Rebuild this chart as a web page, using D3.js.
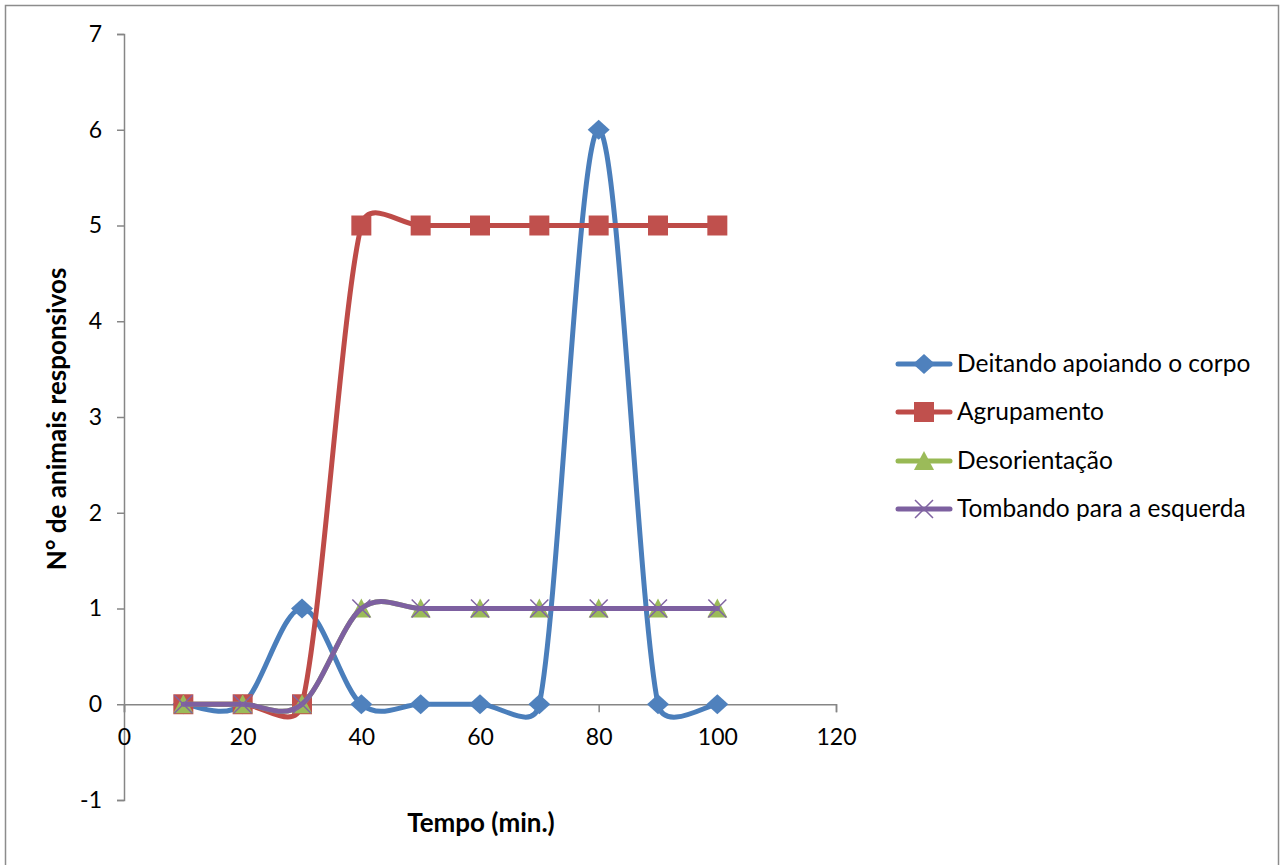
<!DOCTYPE html>
<html>
<head>
<meta charset="utf-8">
<script src="https://cdn.jsdelivr.net/npm/d3@7/dist/d3.min.js"></script>
<style>
  html, body { margin: 0; padding: 0; background: #fff; }
  svg { display: block; }
  text { font-family: Lato, "Open Sans", "Liberation Sans", sans-serif; fill: #000; }
</style>
</head>
<body>
<svg id="chart" width="1280" height="865"></svg>
<script>
// Time points (minutes)
const tempo = [10, 20, 30, 40, 50, 60, 70, 80, 90, 100];

// Number of responsive animals per behaviour
const deitando = [0, 0, 1, 0, 0, 0, 0, 6, 0, 0];
const agrupamento = [0, 0, 0, 5, 5, 5, 5, 5, 5, 5];
const desorientacao = [0, 0, 0, 1, 1, 1, 1, 1, 1, 1];
const tombando = [0, 0, 0, 1, 1, 1, 1, 1, 1, 1];

const seriesNames = ["Deitando apoiando o corpo", "Agrupamento", "Desorientação", "Tombando para a esquerda"];
const seriesValues = [deitando, agrupamento, desorientacao, tombando];
const seriesColors = ["#4A7EBB", "#BE4B48", "#98B954", "#7D60A0"];
const markerColors = ["#4F81BD", "#C0504D", "#9BBB59", "#8064A2"];
const markerShapes = ["diamond", "square", "triangle", "x"];

const xTicks = [0, 20, 40, 60, 80, 100, 120];
const yTicks = [-1, 0, 1, 2, 3, 4, 5, 6, 7];

const svg = d3.select("#chart");

// chart frame
svg.append("rect")
  .attr("x", 5.5).attr("y", 5.5)
  .attr("width", 1273).attr("height", 880)
  .attr("fill", "#fff")
  .attr("stroke", "#8c8c8c").attr("stroke-width", 1.5);

const x = d3.scaleLinear().domain([0, 120]).range([124, 836]);
const y = d3.scaleLinear().domain([-1, 7]).range([800, 34]);

const axisColor = "#868686";
const tickFont = 23;

// Y axis (at x = 0)
const yAxis = svg.append("g")
  .attr("transform", `translate(${x(0)},0)`)
  .call(d3.axisLeft(y).tickValues(yTicks).tickSize(7).tickPadding(15).tickFormat(d => String(d)));
yAxis.select(".domain").attr("stroke", axisColor).attr("stroke-width", 1.5);
yAxis.selectAll(".tick line").attr("stroke", axisColor).attr("stroke-width", 1.5);
yAxis.selectAll(".tick text").attr("font-size", tickFont).attr("font-family", "Lato, sans-serif").attr("fill", "#000");

// X axis (crosses at y = 0)
const xAxis = svg.append("g")
  .attr("transform", `translate(0,${y(0)})`)
  .call(d3.axisBottom(x).tickValues(xTicks).tickSize(8).tickPadding(16).tickFormat(d => String(d)));
xAxis.select(".domain").attr("stroke", axisColor).attr("stroke-width", 1.5);
xAxis.selectAll(".tick line").attr("stroke", axisColor).attr("stroke-width", 1.5);
xAxis.selectAll(".tick text").attr("font-size", tickFont).attr("font-family", "Lato, sans-serif").attr("fill", "#000");

// Axis titles
svg.append("text")
  .attr("transform", `translate(66,${(y(7) + y(-1)) / 2 + 2}) rotate(-90)`)
  .attr("text-anchor", "middle")
  .attr("font-size", 26).attr("font-weight", "bold")
  .text("N° de animais responsivos");

svg.append("text")
  .attr("x", 481).attr("y", 832)
  .attr("text-anchor", "middle")
  .attr("font-size", 26).attr("font-weight", "bold")
  .text("Tempo (min.)");

// Smoothed line with Bezier control points limited to half the segment length
function smoothPath(pts) {
  const p = d3.path();
  const n = pts.length;
  p.moveTo(pts[0][0], pts[0][1]);
  const dist = (a, b) => Math.hypot(b[0] - a[0], b[1] - a[1]);
  for (let i = 0; i < n - 1; i++) {
    const p0 = pts[Math.max(i - 1, 0)];
    const p1 = pts[i];
    const p2 = pts[i + 1];
    const p3 = pts[Math.min(i + 2, n - 1)];
    const d12 = dist(p1, p2);
    const d02 = dist(p0, p2);
    const d13 = dist(p1, p3);
    let f1 = 1 / 6, f2 = 1 / 6;
    if (d02 * f1 > d12 / 2) f1 = d12 / (2 * d02);
    if (d13 * f2 > d12 / 2) f2 = d12 / (2 * d13);
    const c1 = [p1[0] + (p2[0] - p0[0]) * f1, p1[1] + (p2[1] - p0[1]) * f1];
    const c2 = [p2[0] - (p3[0] - p1[0]) * f2, p2[1] - (p3[1] - p1[1]) * f2];
    p.bezierCurveTo(c1[0], c1[1], c2[0], c2[1], p2[0], p2[1]);
  }
  return p.toString();
}

function markerPath(shape) {
  const s = 10;
  switch (shape) {
    case "diamond": return `M0,${-s}L${s + 1},0L0,${s}L${-s - 1},0Z`;
    case "square": return `M${-s},${-s}H${s}V${s}H${-s}Z`;
    case "triangle": return `M0,${-s}L${s},${s - 1}H${-s}Z`;
    default: return null;
  }
}

function drawMarker(g, shape, cx, cy, fill) {
  if (shape === "x") {
    const s = 9;
    g.append("path")
      .attr("d", `M${cx - s},${cy - s}L${cx + s},${cy + s}M${cx - s},${cy + s}L${cx + s},${cy - s}`)
      .attr("stroke", fill).attr("stroke-width", 1.5).attr("fill", "none");
  } else {
    g.append("path")
      .attr("d", markerPath(shape))
      .attr("transform", `translate(${cx},${cy})`)
      .attr("fill", fill);
  }
}

const plot = svg.append("g");
seriesValues.forEach((vals, si) => {
  const g = plot.append("g");
  const pts = tempo.map((t, i) => [x(t), y(vals[i])]);
  g.append("path")
    .attr("d", smoothPath(pts))
    .attr("fill", "none")
    .attr("stroke", seriesColors[si])
    .attr("stroke-width", 5)
    .attr("stroke-linecap", "round")
    .attr("stroke-linejoin", "round");
  pts.forEach(pt => drawMarker(g, markerShapes[si], pt[0], pt[1], markerColors[si]));
});

// Legend
const legend = svg.append("g");
const legendY = [364, 412, 461, 509];
seriesNames.forEach((name, si) => {
  const g = legend.append("g");
  const ly = legendY[si];
  g.append("line")
    .attr("x1", 898).attr("x2", 950).attr("y1", ly).attr("y2", ly)
    .attr("stroke", seriesColors[si]).attr("stroke-width", 5).attr("stroke-linecap", "round");
  drawMarker(g, markerShapes[si], 924, ly, markerColors[si]);
  g.append("text")
    .attr("x", 957).attr("y", ly + 8)
    .attr("font-size", 24.5)
    .text(name);
});
</script>
</body>
</html>
